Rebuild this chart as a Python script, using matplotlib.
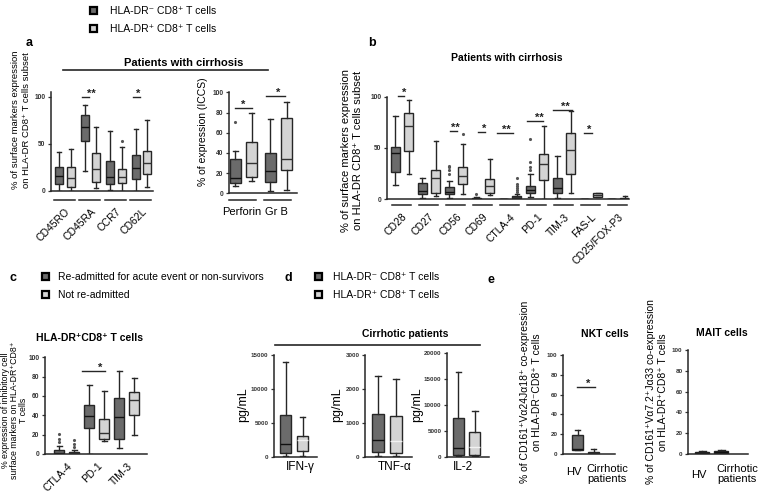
import matplotlib
matplotlib.use('Agg')
import matplotlib.pyplot as plt
from matplotlib.lines import Line2D
from matplotlib.patches import Rectangle
import matplotlib.transforms as mtrans

plt.rcParams['font.family'] = ['Liberation Sans', 'DejaVu Sans']

W, H = 759, 496
fig = plt.figure(figsize=(W / 100, H / 100), dpi=100)

DARK = '#6b6b6b'
LIGHT = '#d4d4d4'
EDGE = '#262626'

# ---------------- data: five-number summaries [whislo, q1, median, q3, whishi] ----------------
a_markers = ['CD45RO', 'CD45RA', 'CCR7', 'CD62L']
a_neg = [[0, 7.5, 16, 25, 41], [21, 53, 68, 81, 91], [1, 7, 15, 32, 63.5], [0, 12.5, 24, 38, 66]]
a_pos = [[0, 4.6, 13.5, 25, 45], [3, 10, 23.5, 40, 68], [0, 8, 15, 23, 47], [4, 18, 30, 43, 75]]
a_neg_fliers = [[], [], [], []]
a_pos_fliers = [[], [], [53], []]

a2_markers = ['Perforin', 'Gr B']
a2_neg = [[7, 10, 15, 33.7, 42], [2.3, 11, 22, 40, 73.6]]
a2_pos = [[12, 16.5, 30, 50.5, 80], [3.3, 23, 34, 75, 91]]
a2_neg_fliers = [[71], []]
a2_pos_fliers = [[], []]

b_markers = ['CD28', 'CD27', 'CD56', 'CD69', 'CTLA-4', 'PD-1', 'TIM-3', 'FAS-L', 'CD25/FOX-P3']
b_neg = [[13.6, 27, 45, 51, 81], [1, 5.2, 8.4, 15.6, 20.5], [1, 5, 7.5, 11.7, 18], [0, 0, 0.5, 1, 2],
         [0, 0, 0.1, 0.3, 0.5], [2.6, 5.8, 9, 13.3, 24.7], [1.6, 5.8, 11.3, 20.6, 42],
         [0, 0, 0.1, 0.3, 0.5], [0, 0, 0.1, 0.3, 0.5]]
b_pos = [[25, 47, 71, 84, 97], [3.2, 5.8, 20.5, 28.6, 57], [5, 14.6, 22.7, 31, 53.6], [4, 5.8, 13.3, 19.5, 39],
         [0, 1, 2, 3, 5], [0, 19, 34, 44, 71.4], [6.5, 24.4, 48, 65, 86], [2, 2.5, 4.2, 5.8, 6.5],
         [0, 0.2, 0.5, 1, 3]]
b_neg_fliers = [[], [], [25, 28.6, 31, 32], [5], [], [28.6, 31, 36.7, 59], [], [], []]
b_pos_fliers = [[], [], [64], [], [7.5, 9, 10.7, 13, 15, 21], [], [], [], []]

c_markers = ['CTLA-4', 'PD-1', 'TIM-3']
c_readmitted = [[0, 0.3, 1.5, 4, 8], [0, 26.5, 39.3, 50.7, 71], [6, 15, 38.6, 57.6, 86]]
c_not_readmitted = [[0, 0.3, 1.2, 2.5, 4], [13.5, 15, 22, 36, 65.5], [19.7, 40, 56, 64.5, 79]]
c_readmitted_fliers = [[12, 16, 21], [], []]
c_not_readmitted_fliers = [[7, 10, 14], [], []]

d_cytokines = ['IFN-γ', 'TNF-α', 'IL-2']
d_neg = [[50, 600, 1800, 6200, 14000], [20, 130, 480, 1250, 2380], [100, 400, 1700, 7400, 16300]]
d_pos = [[150, 800, 2500, 3000, 5800], [20, 100, 450, 1200, 2290], [100, 300, 1900, 4700, 8900]]
d_yticks = [[0, 5000, 10000, 15000], [0, 1000, 2000, 3000], [0, 5000, 10000, 15000, 20000]]

e_groups = ['HV', 'Cirrhotic\npatients']
e_nkt = [[4, 4, 5, 19, 24], [0, 0.7, 1.4, 2.4, 5]]
e_mait = [[0, 0.3, 0.8, 1.5, 3], [0, 0.5, 1.5, 2.5, 4]]


# ---------------- helpers ----------------
def px_axes(x0, x1, y_zero, y_top):
    return fig.add_axes([x0 / W, 1 - y_zero / H, (x1 - x0) / W, (y_zero - y_top) / H])


def ftext(x, y, s, **kw):
    return fig.text(x / W, 1 - y / H, s, **kw)


def fline(x0, x1, y, lw=1.2):
    fig.add_artist(Line2D([x0 / W, x1 / W], [1 - y / H, 1 - y / H], transform=fig.transFigure,
                          color=EDGE, lw=lw))


def square(x, y, color, size=7):
    fig.add_artist(Rectangle((x / W, 1 - (y + size) / H), size / W, size / H, transform=fig.transFigure,
                             facecolor=color, edgecolor='black', lw=1.6))


def style(ax, xlim, ylim, yticks, tfs=4.8):
    ax.set_xlim(*xlim)
    ax.set_ylim(*ylim)
    ax.set_facecolor('none')
    for s in ['top', 'right']:
        ax.spines[s].set_visible(False)
    for s in ['left', 'bottom']:
        ax.spines[s].set_linewidth(1.1)
        ax.spines[s].set_color(EDGE)
    ax.set_yticks(yticks)
    ax.set_yticklabels([str(t) for t in yticks], fontsize=tfs, fontweight='bold', color='#333333')
    ax.tick_params(axis='y', length=2.5, width=0.9, pad=1.5, colors='#333333')
    ax.tick_params(axis='x', length=0)


def five_stats(five, fl):
    return dict(whislo=five[0], q1=five[1], med=five[2], q3=five[3], whishi=five[4], fliers=list(fl))


def boxes(ax, positions, fives, fliers, color, width, medc='#111111', lw=1.0):
    st = [five_stats(f, fl) for f, fl in zip(fives, fliers)]
    ax.bxp(st, positions=positions, widths=width, patch_artist=True, showfliers=True,
           boxprops=dict(facecolor=color, edgecolor=EDGE, linewidth=lw),
           medianprops=dict(color=medc, linewidth=lw),
           whiskerprops=dict(color=EDGE, linewidth=lw),
           capprops=dict(color=EDGE, linewidth=lw),
           flierprops=dict(marker='.', markersize=2.5, markerfacecolor='#555555',
                           markeredgecolor='#555555'),
           manage_ticks=False)


def underline(ax, x0, x1, dpx):
    hpx = ax.get_position().height * H
    tr = mtrans.blended_transform_factory(ax.transData, ax.transAxes)
    ax.plot([x0, x1], [-dpx / hpx] * 2, transform=tr, clip_on=False, color=EDGE, lw=1.1)


def sig(ax, x0, x1, y, xs, s, fs=8):
    ax.plot([x0, x1], [y, y], color=EDGE, lw=1.0, clip_on=False)
    ax.text(xs, y, s, ha='center', va='baseline', fontsize=fs, fontweight='bold', clip_on=False,
            color='#222222')


# ---------------- top legend ----------------
square(90, 7, DARK)
square(90, 25, LIGHT)
ftext(110, 11, 'HLA-DR⁻ CD8⁺ T cells', fontsize=7.5, va='center')
ftext(110, 29, 'HLA-DR⁺ CD8⁺ T cells', fontsize=7.5, va='center')

# ---------------- panel a ----------------
ftext(29, 43, 'a', fontsize=9, fontweight='bold', va='center', ha='center')
ftext(184, 63, 'Patients with cirrhosis', fontsize=8, fontweight='bold', ha='center', va='center')
fline(63, 268, 70)

axa = px_axes(51, 153, 191, 191 - 105 * 0.94)
style(axa, (-0.55, 3.45), (0, 105), [0, 50, 100])
ga = list(range(len(a_markers)))
boxes(axa, [g - 0.225 for g in ga], a_neg, a_neg_fliers, DARK, 0.33)
boxes(axa, [g + 0.225 for g in ga], a_pos, a_pos_fliers, LIGHT, 0.33, medc='#333333')
axa.set_xticks(ga)
axa.set_xticklabels(a_markers, rotation=45, ha='right', rotation_mode='anchor', fontsize=7.5)
axa.tick_params(axis='x', pad=11)
for g in ga:
    underline(axa, g - 0.45, g + 0.38, 9)
sig(axa, 0.65, 0.95, 100, 1.05, '**')
sig(axa, 2.67, 2.94, 100, 2.85, '*')
ftext(21, 120, '% of surface markers expression\non HLA-DR CD8⁺ T cells subset', fontsize=6.8,
      rotation=90, ha='center', va='center', linespacing=1.15)

axa2 = px_axes(229, 297, 193.3, 193.3 - 100 * 1.008)
style(axa2, (-0.414, 1.53), (0, 100), [0, 20, 40, 60, 80, 100])
g2 = list(range(len(a2_markers)))
boxes(axa2, [g - 0.23 for g in g2], a2_neg, a2_neg_fliers, DARK, 0.31)
boxes(axa2, [g + 0.23 for g in g2], a2_pos, a2_pos_fliers, LIGHT, 0.31, medc='#333333')
axa2.set_xticks([-0.05, 0.93])
axa2.set_xticklabels(a2_markers, fontsize=8)
axa2.tick_params(axis='x', pad=10)
for g in g2:
    underline(axa2, g - 0.4, g + 0.35, 7)
sig(axa2, -0.23, 0.23, 85, 0.0, '*')
sig(axa2, 0.64, 1.19, 97, 1.0, '*')
ftext(203, 132, '% of expression (ICCS)', fontsize=7.5, rotation=90, ha='center', va='center')

# ---------------- panel b ----------------
ftext(372, 43, 'b', fontsize=9, fontweight='bold', va='center', ha='center')
ftext(507, 58, 'Patients with cirrhosis', fontsize=7.5, fontweight='bold', ha='center', va='center')
axb = px_axes(387, 629, 199.3, 199.3 - 100 * 1.026)
style(axb, (-0.56, 8.4), (0, 100), [0, 50, 100])
gb = list(range(len(b_markers)))
boxes(axb, [g - 0.25 for g in gb], b_neg, b_neg_fliers, DARK, 0.33)
boxes(axb, [g + 0.25 for g in gb], b_pos, b_pos_fliers, LIGHT, 0.33, medc='#333333')
axb.set_xticks(gb)
axb.set_xticklabels(b_markers, rotation=45, ha='right', rotation_mode='anchor', fontsize=7.5)
axb.tick_params(axis='x', pad=9)
for g in gb:
    underline(axb, g - 0.38, g + 0.32, 6)
sig(axb, -0.15, 0.07, 101, 0.08, '*')
sig(axb, 1.77, 2.03, 67, 1.99, '**')
sig(axb, 2.81, 3.07, 66, 3.03, '*')
sig(axb, 3.51, 4.11, 65, 3.87, '**')
sig(axb, 4.63, 5.22, 76, 5.07, '**')
sig(axb, 5.59, 6.29, 87, 6.03, '**')
sig(axb, 6.74, 7.03, 65, 6.92, '*')
ftext(352, 150, '% of surface markers expression\non HLA-DR CD8⁺ T cells subset', fontsize=8,
      rotation=90, ha='center', va='center', linespacing=1.15)

# ---------------- panel c ----------------
ftext(13, 278, 'c', fontsize=9, fontweight='bold', va='center', ha='center')
square(42, 273, DARK)
square(42, 291, LIGHT)
ftext(58, 277, 'Re-admitted for acute event or non-survivors', fontsize=7.5, va='center')
ftext(58, 295, 'Not re-admitted', fontsize=7.5, va='center')
ftext(89, 338, 'HLA-DR⁺CD8⁺ T cells', fontsize=7.5, fontweight='bold', ha='center', va='center')
axc = px_axes(45, 147, 454, 454 - 100 * 0.967)
style(axc, (-0.725, 2.67), (0, 100), [0, 20, 40, 60, 80, 100])
gc = list(range(len(c_markers)))
boxes(axc, [g - 0.25 for g in gc], c_readmitted, c_readmitted_fliers, DARK, 0.33)
boxes(axc, [g + 0.25 for g in gc], c_not_readmitted, c_not_readmitted_fliers, LIGHT, 0.33, medc='#333333')
axc.set_xticks(gc)
axc.set_xticklabels(c_markers, rotation=45, ha='right', rotation_mode='anchor', fontsize=7.5)
axc.tick_params(axis='x', pad=5)
sig(axc, 0.51, 1.27, 86, 1.11, '*')
ftext(15, 410, '% expression of inhibitory cell\nsurface markers on HLA-DR⁺CD8⁺\nT cells', fontsize=6.3,
      rotation=90, ha='center', va='center', linespacing=1.0)

# ---------------- panel d ----------------
ftext(288, 278, 'd', fontsize=9, fontweight='bold', va='center', ha='center')
square(315, 273, DARK)
square(315, 291, LIGHT)
ftext(333, 277, 'HLA-DR⁻ CD8⁺ T cells', fontsize=7.5, va='center')
ftext(333, 295, 'HLA-DR⁺ CD8⁺ T cells', fontsize=7.5, va='center')
ftext(405, 334, 'Cirrhotic patients', fontsize=7.5, fontweight='bold', ha='center', va='center')
fline(275, 480, 345)

d_x = [(274, 317), (365, 412), (447, 489)]
d_top = [355, 355, 353]
d_ylab_x = [243, 337, 417]
d_lab_x = [300, 395, 463]
for i, name in enumerate(d_cytokines):
    x0, x1 = d_x[i]
    ax = px_axes(x0, x1, 456.7, d_top[i])
    style(ax, (0.32, 2.85), (0, d_yticks[i][-1]), d_yticks[i], tfs=4.5)
    boxes(ax, [1], [d_neg[i]], [[]], DARK, 0.65)
    boxes(ax, [2], [d_pos[i]], [[]], LIGHT, 0.65, medc='#f2f2f2')
    ax.set_xticks([])
    ftext(d_lab_x[i], 467, name, fontsize=8.5, ha='center', va='center')
    ftext(d_ylab_x[i], 405, 'pg/mL', fontsize=9, rotation=90, ha='center', va='center')

# ---------------- panel e ----------------
ftext(491, 280, 'e', fontsize=9, fontweight='bold', va='center', ha='center')
ftext(605, 334, 'NKT cells', fontsize=7.5, fontweight='bold', ha='center', va='center')
ftext(722, 333, 'MAIT cells', fontsize=7.5, fontweight='bold', ha='center', va='center')

axn = px_axes(563, 615, 454, 355)
style(axn, (0.09, 3.34), (0, 100), [0, 20, 40, 60, 80, 100], tfs=4.5)
boxes(axn, [1], [e_nkt[0]], [[]], DARK, 0.72)
boxes(axn, [2], [e_nkt[1]], [[]], LIGHT, 0.72, medc='#333333')
axn.set_xticks([])
sig(axn, 0.965, 2.09, 68, 1.65, '*')
ftext(574, 472, e_groups[0], fontsize=8, ha='center', va='center')
ftext(607, 474, e_groups[1], fontsize=8, ha='center', va='center', linespacing=1.0)
ftext(531, 392, '% of CD161⁺Vα24Jα18⁺ co-expression\non HLA-DR⁻CD8⁺ T cells', fontsize=7.5,
      rotation=90, ha='center', va='center', linespacing=1.15)

axm = px_axes(688, 748, 454, 350)
style(axm, (0.25, 3.4), (0, 100), [0, 20, 40, 60, 80, 100], tfs=4.5)
boxes(axm, [1], [e_mait[0]], [[]], DARK, 0.72)
boxes(axm, [2], [e_mait[1]], [[]], DARK, 0.72)
axm.set_xticks([])
ftext(699, 475, e_groups[0], fontsize=8, ha='center', va='center')
ftext(737, 474, e_groups[1], fontsize=8, ha='center', va='center', linespacing=1.0)
ftext(657, 392, '% of CD161⁺Vα7.2⁺Jα33 co-expression\non HLA-DR⁺CD8⁺ T cells', fontsize=7.5,
      rotation=90, ha='center', va='center', linespacing=1.15)

fig.savefig('out.png', dpi=100, facecolor='white')
